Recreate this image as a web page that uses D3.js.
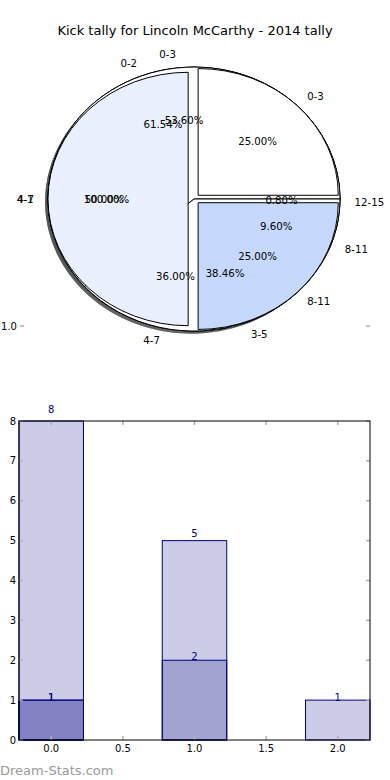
<!DOCTYPE html>
<html><head><meta charset="utf-8">
<script src="https://cdn.jsdelivr.net/npm/d3@7"></script>
<style>
html,body{margin:0;padding:0;background:#fff;}
text{font-family:"DejaVu Sans",sans-serif;}
</style></head>
<body>
<svg id="c" width="390" height="780"></svg>
<script>
// ---------- data ----------
const title = "Kick tally for Lincoln McCarthy - 2014 tally";
// pies, drawn in this order (last on top)
const pieALabels = ["4-1"];
const pieAValues = [1];
const pieBLabels = ["0-3", "4-7", "8-11", "12-15"];
const pieBValues = [67, 45, 12, 1];
const pieCLabels = ["0-2", "3-5"];
const pieCValues = [8, 5];
const pieDLabels = ["0-3", "4-7", "8-11"];
const pieDValues = [1, 2, 1];
const pieDColors = ["#ffffff", "#eaf0fd", "#c6d9fd"];
// bars (overlapping, translucent)
const barCats = [0, 1, 2];
const barSeries1 = [8, 5, 1];
const barSeries2 = [1, 2, 0];
const barSeries3 = [1, 0, 0];
const xTicks = [0, 0.5, 1, 1.5, 2];
const yTicks = [0, 1, 2, 3, 4, 5, 6, 7, 8];

// ---------- setup ----------
const svg = d3.select("#c");
svg.append("text").attr("x", 195).attr("y", 30).attr("text-anchor", "middle")
  .attr("dominant-baseline", "central").attr("font-size", 13).attr("fill", "#000").text(title);

// pie geometry (data units -> pixels)
const cx = 194, cy = 199, ux = 146, uy = 132;
const px = d3.scaleLinear().domain([-1, 1]).range([cx - ux, cx + ux]);
const py = d3.scaleLinear().domain([-1, 1]).range([cy + uy, cy - uy]);

const pies = [
  {labels: pieALabels, values: pieAValues, colors: null, radius: 1, explode: 0},
  {labels: pieBLabels, values: pieBValues, colors: null, radius: 1, explode: 0},
  {labels: pieCLabels, values: pieCValues, colors: null, radius: 1, explode: 0},
  {labels: pieDLabels, values: pieDValues, colors: pieDColors, radius: 0.96, explode: 0.04}
];

const unitArc = d3.arc().innerRadius(0).outerRadius(1);
const shadowG = svg.append("g");
const wedgeG = svg.append("g");
const textG = svg.append("g");

pies.forEach(p => {
  const total = d3.sum(p.values);
  const arcs = d3.pie().sort(null).value(d => d).startAngle(0).endAngle(2 * Math.PI)(p.values);
  arcs.forEach((a, i) => {
    // matplotlib-style: counter-clockwise from east
    const t1 = a.startAngle, t2 = a.endAngle;
    const tm = (t1 + t2) / 2;
    const ox = p.explode * Math.cos(tm), oy = p.explode * Math.sin(tm);
    const full = (t2 - t1) >= 2 * Math.PI - 1e-9;
    const path = full ? null : unitArc({startAngle: Math.PI / 2 - t2, endAngle: Math.PI / 2 - t1});
    const fc = p.colors ? p.colors[i] : "#ffffff";
    const c = d3.rgb(fc);
    const sc = d3.rgb(c.r * 0.3, c.g * 0.3, c.b * 0.3);
    const tf = (dx, dy) => `translate(${px(ox + dx)},${py(oy + dy)}) scale(${ux * p.radius},${uy * p.radius})`;
    const draw = (g, dx, dy, fill, stroke, op) => {
      const el = full ? g.append("ellipse").attr("cx", 0).attr("cy", 0).attr("rx", 1).attr("ry", 1)
                      : g.append("path").attr("d", path);
      el.attr("transform", tf(dx, dy)).attr("fill", fill).attr("fill-opacity", op)
        .attr("stroke", stroke).attr("stroke-width", 1).attr("vector-effect", "non-scaling-stroke");
    };
    draw(shadowG, -0.02, -0.02, sc.formatHex(), "none", 0.5);
    draw(wedgeG, 0, 0, fc, "#000", 1);
    const ca = Math.cos(tm), sa = Math.sin(tm);
    textG.append("text")
      .attr("x", px(ox + 1.1 * p.radius * ca)).attr("y", py(oy + 1.1 * p.radius * sa))
      .attr("text-anchor", ca >= 0 ? "start" : "end").attr("dominant-baseline", "central")
      .attr("font-size", 10.2).attr("fill", "#000").text(p.labels[i]);
    textG.append("text")
      .attr("x", px(ox + 0.6 * p.radius * ca)).attr("y", py(oy + 0.6 * p.radius * sa))
      .attr("text-anchor", "middle").attr("dominant-baseline", "central")
      .attr("font-size", 10.2).attr("fill", "#000").text((100 * p.values[i] / total).toFixed(2) + "%");
  });
});

// stray tick of the pie axes
const pieTickY = -1.0;
svg.append("text").attr("x", 17).attr("y", py(pieTickY) - 5).attr("text-anchor", "end")
  .attr("dominant-baseline", "central").attr("font-size", 10).attr("fill", "#000").text("\u22121.0");
svg.append("line").attr("x1", 20).attr("x2", 24).attr("y1", py(pieTickY) - 5).attr("y2", py(pieTickY) - 5)
  .attr("stroke", "#b0b0b0").attr("stroke-width", 1.5);
svg.append("line").attr("x1", 366).attr("x2", 370).attr("y1", py(pieTickY) - 5).attr("y2", py(pieTickY) - 5)
  .attr("stroke", "#b0b0b0").attr("stroke-width", 1.5);

// ---------- bar chart ----------
const L = 19, R = 370, T = 421, B = 740;
const x = d3.scaleLinear().domain([-0.225, 2.225]).range([L, R]);
const y = d3.scaleLinear().domain([0, 8]).range([B, T]);
const bw = 0.45;
const barG = svg.append("g");
const labG = svg.append("g");
[barSeries1, barSeries2, barSeries3].forEach(s => {
  s.forEach((v, i) => {
    if (!v) return;
    barG.append("rect").attr("x", x(barCats[i] - bw / 2)).attr("y", y(v))
      .attr("width", x(barCats[i] + bw / 2) - x(barCats[i] - bw / 2)).attr("height", y(0) - y(v))
      .attr("fill", "#000080").attr("fill-opacity", 0.2).attr("stroke", "#000080").attr("stroke-width", 1);
    labG.append("text").attr("x", x(barCats[i])).attr("y", y(v * 1.03) + 2)
      .attr("text-anchor", "middle").attr("font-size", 10).attr("fill", "#000080").text(v);
  });
});
// ticks (inward, grey, all four sides)
const tg = svg.append("g").attr("stroke", "#b0b0b0").attr("stroke-width", 1.5);
xTicks.forEach(t => {
  tg.append("line").attr("x1", x(t)).attr("x2", x(t)).attr("y1", B).attr("y2", B - 4);
  tg.append("line").attr("x1", x(t)).attr("x2", x(t)).attr("y1", T).attr("y2", T + 4);
});
yTicks.forEach(t => {
  tg.append("line").attr("x1", L).attr("x2", L + 4).attr("y1", y(t)).attr("y2", y(t));
  tg.append("line").attr("x1", R).attr("x2", R - 4).attr("y1", y(t)).attr("y2", y(t));
});
svg.append("rect").attr("x", L).attr("y", T).attr("width", R - L).attr("height", B - T)
  .attr("fill", "none").attr("stroke", "#000").attr("stroke-width", 1);
xTicks.forEach(t => {
  svg.append("text").attr("x", x(t)).attr("y", B + 8).attr("text-anchor", "middle")
    .attr("dominant-baseline", "central").attr("font-size", 10).attr("fill", "#000").text(d3.format(".1f")(t));
});
yTicks.forEach(t => {
  svg.append("text").attr("x", 16).attr("y", y(t)).attr("text-anchor", "end")
    .attr("dominant-baseline", "central").attr("font-size", 10).attr("fill", "#000").text(t);
});
svg.append("text").attr("x", 0).attr("y", 770).attr("dominant-baseline", "central")
  .attr("font-size", 13).attr("font-family", "'Liberation Sans', Arial, sans-serif")
  .attr("fill", "#9a9a9a").text("Dream-Stats.com");
</script>
</body></html>
